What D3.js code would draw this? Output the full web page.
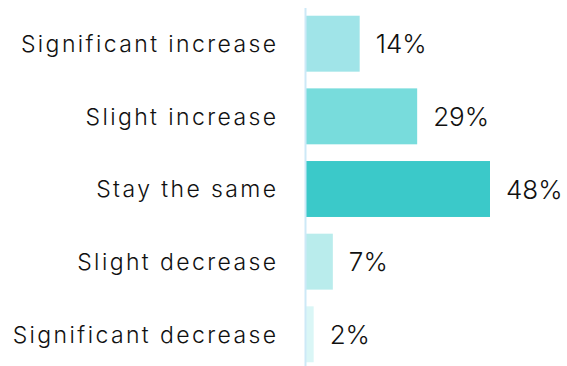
<!DOCTYPE html>
<html>
<head>
<meta charset="utf-8">
<script src="https://cdn.jsdelivr.net/npm/d3@7"></script>
<style>
  html, body { margin: 0; padding: 0; background: #fff; }
  svg text { font-family: "Inter", "Open Sans", sans-serif; fill: #111; }
</style>
</head>
<body>
<svg id="chart" width="567" height="366"></svg>
<script>
const categories = ["Significant increase", "Slight increase", "Stay the same", "Slight decrease", "Significant decrease"];
const values = [14, 29, 48, 7, 2];
const colors = ["#a0e4e8", "#78dcdc", "#3bc9c9", "#b9ecec", "#daf6f6"];

const svg = d3.select("#chart");
const axisX = 306;

const y = d3.scaleBand()
  .domain(categories)
  .range([7, 371])
  .paddingInner(0.23)
  .paddingOuter(0.12);

const x = d3.scaleLinear()
  .domain([0, 48])
  .range([axisX, 490]);

// bars
svg.selectAll("rect.bar")
  .data(categories)
  .join("rect")
  .attr("class", "bar")
  .attr("x", x(0))
  .attr("y", d => y(d))
  .attr("width", (d, i) => x(values[i]) - x(0))
  .attr("height", y.bandwidth())
  .attr("fill", (d, i) => colors[i]);

// vertical baseline
svg.append("line")
  .attr("x1", axisX - 0.5).attr("x2", axisX - 0.5)
  .attr("y1", 8).attr("y2", 366)
  .attr("stroke", "#cde9f7")
  .attr("stroke-width", 2);

// category labels
svg.selectAll("text.cat")
  .data(categories)
  .join("text")
  .attr("class", "cat")
  .attr("x", 278.5)
  .attr("y", d => y(d) + y.bandwidth() / 2)
  .attr("dy", "0.36em")
  .attr("text-anchor", "end")
  .attr("font-size", 23)
  .attr("font-weight", 300)
  .attr("letter-spacing", 2.4)
  .text(d => d);

// value labels
svg.selectAll("text.val")
  .data(categories)
  .join("text")
  .attr("class", "val")
  .attr("x", (d, i) => x(values[i]) + 16)
  .attr("y", d => y(d) + y.bandwidth() / 2)
  .attr("dy", "0.37em")
  .attr("font-size", 26)
  .attr("font-weight", 350)
  .text((d, i) => values[i] + "%");
</script>
</body>
</html>
